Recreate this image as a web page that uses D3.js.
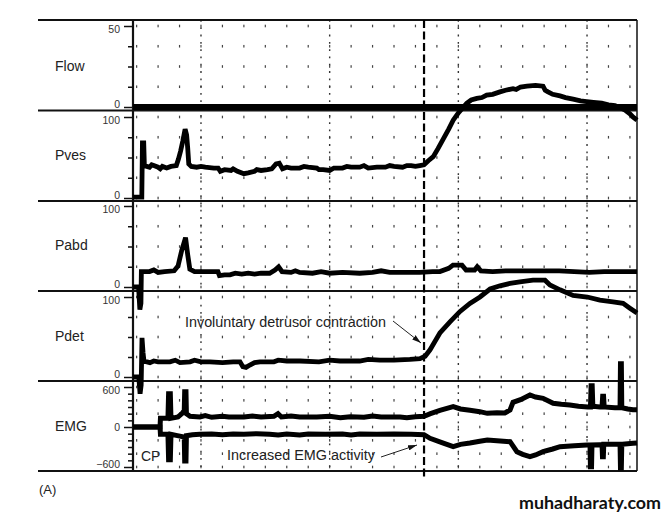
<!DOCTYPE html>
<html><head><meta charset="utf-8">
<script src="https://cdn.jsdelivr.net/npm/d3@7"></script>
<style>body{margin:0;background:#fff}svg{display:block}</style>
</head><body>
<svg id="c" width="668" height="518"></svg>
<script>
// ---------- DATA ----------
const channels = ["Flow", "Pves", "Pabd", "Pdet", "EMG"];
const flowTicks = [0, 12.5, 25, 37.5, 50];
const flowTickLabels = ["0", "", "", "", "50"];
const pressTicks = [0, 25, 50, 75, 100];
const pressTickLabels = ["0", "", "", "", "100"];
const emgTicks = [-600, -500, -400, -300, -200, -100, 0, 100, 200, 300, 400, 500, 600];
const emgTickLabels = ["\u2212600", "", "", "", "", "", "0", "", "", "", "", "", "600"];
const emgGridRows = [-600, -400, -200, 0, 200, 400, 600];
const timeGrid = [0,10,20,30,40,50,60,70,80,90,100,110,120,130,140,150,160,170,180,190,200,210,220,230];
const majorTimes = [30, 90, 150, 210];
const contractionTime = 134;

// [time (s), value]
const flow = [[-1.7,0],[233.3,0]];
const pves = [[-1.7,1],[2.4,1],[2.7,68],[3.3,68],[3.6,40],[6,38],[7,41],[8,40],[10,38],[11,36],[12,39],[14,37],[16,39],[18.5,40],
  [19.5,48],[20.5,58],[21.5,70],[22.6,85],[23.3,78],[23.8,62],[24.3,42],[25.5,39],[28,38],[30,39],[32,38],[36,37],[38,37],[39,33],
  [41,35],[44,34],[45,36],[47,33],[50,30],[52,31],[55,33],[56,35],[58,34],[61,35],[63,36],[65,42],[66.5,43],[68,36],[70,38],[72,37],[76,37],
  [78,39],[80,38],[84,37],[85,35],[87,35],[90,34],[92,37],[96,37],[98,39],[100,38],[104,38],[106,40],[108,37],[112,38],[116,38],[118,40],[120,39],[124,38],
  [126,40],[128,40],[130,39],[132,40],[134,41],[136,46],[138.3,51],[140.5,61],[143,73],[145.5,85],[147.6,96],[150,105],[153.9,117],
  [156,121],[158.6,123],[161,124],[163.2,127],[166,128],[169.4,131],[172,133],[175.5,135],[177,134],[179,137],[182,138],[186,139],[189.5,138],
  [190.5,133],[191.8,131],[194,128],[197.4,126],[200,124],[203.5,122],[207,120],[209.8,119],[213,118],[216.8,117],
  [220,115],[223,114],[226,111],[228,108],[230,104],[231.4,100],[233.3,96]];
const pabd = [[-1.7,0],[0.9,0],[1.5,-28],[2.0,-20],[2.2,19],[6,19],[8,21],[10,18],[13,19],[17.5,20],[19.3,26],[21,45],
  [22.8,61],[23.8,40],[24.8,22],[27,19],[33,19],[37.9,19],[38.6,14],[41,15],[43.5,15],[46,17],[49,16],[52,17],
  [55,16],[58,17],[62,17],[64.5,21],[66.2,25],[67.8,19],[72,18],[74,20],[76,18],[82,17],[86,19],[90,17],[96,18],[104,17],
  [110,18],[114,20],[118,18],[126,18],[132,18],[138,19],[141.4,19],[145.5,23],[147.5,27],[151.7,27],[153.6,21],[157.6,21],
  [158.8,25],[160.5,20],[166,19],[172,20],[180,20],[188,20],[197,20],[204,19],[211,18],[218,19],[226,19],[233.3,19]];
const pdet = [[-1.7,0],[1.0,0],[1.6,-21],[2.1,-10],[2.5,49],[3.0,30],[3.4,20],[6.2,18],[8,20],[10,19],[15.5,19],[18,21],[20.2,18],
  [24.9,19],[27,21],[30,19],[34.2,19],[40,18],[45,19],[48.2,19],[49.5,13],[51,12],[52.8,15],[55,18],[57.5,19],[64,19],
  [66,21],[70,20],[76.2,20],[85,19],[90,21],[94.8,20],[104,20],[108,22],[113.4,21],[120,21],[127.4,22],[132.1,23],[134.5,26],[136.8,34],
  [139,44],[141.4,55],[146.1,69],[150.8,82],[155.4,92],[160.1,100],[164.8,110],[169.4,114],[174.1,117],[178.7,119],
  [184.8,121],[190.4,121],[192.7,115],[197.4,109],[203.5,102],[210.1,100],[216,96],[222.1,94],[226.8,92],[230,86],[233.3,80]];
const emgUpper = [[-1.7,0],[10.9,0],[11.1,130],[14.6,130],[14.9,500],[15.7,500],[16.0,130],[19.3,150],[21.1,200],
  [22.2,250],[22.4,530],[23.0,530],[23.2,200],[24.9,160],[29.5,150],[32,170],[35,145],[40,160],[43,150],[50,150],[54,165],
  [58,150],[64,160],[65.9,200],[67.5,150],[72,165],[76,150],[84,150],[90,160],[95,140],[99.6,155],[106,145],[110,165],[114,150],[122.8,150],
  [126,140],[130,155],[134,160],[137,200],[141.4,250],[147.6,305],[151,270],[155.4,250],[160,230],[163.5,205],[168,215],
  [171.7,210],[174.1,255],[175.5,370],[179,410],[183.4,480],[186,450],[189.5,430],[194.2,355],[198,340],[202,330],
  [206,310],[210.4,300],[211.6,300],[211.9,620],[212.4,620],[212.7,310],[216,300],[217.0,300],[217.3,460],[217.7,460],
  [218.0,300],[223,290],[225.4,290],[225.6,950],[226.0,950],[226.2,290],[229,270],[231.4,260],[233.3,260]];
const emgLower = [[-1.7,0],[10.9,0],[11.1,-110],[14.6,-110],[14.9,-490],[15.7,-490],[16.0,-110],[19,-130],[22.2,-150],
  [22.4,-510],[23.0,-510],[23.2,-130],[26,-115],[29.5,-110],[35,-105],[40,-115],[45,-105],[50,-110],[56,-100],
  [62,-110],[66,-120],[70,-105],[76,-120],[80,-105],[88,-110],[96,-105],[100,-120],[104,-105],[112,-110],[120,-105],[128,-110],
  [134,-115],[136.8,-170],[142,-230],[147.6,-295],[151,-260],[155.4,-240],[160,-215],[163.5,-195],[168,-205],
  [174.1,-220],[177.3,-370],[180,-410],[183.4,-445],[186,-420],[189.5,-370],[194,-330],[197.4,-295],[204,-280],
  [210,-270],[211.4,-270],[211.6,-595],[212.1,-595],[212.3,-270],[216,-265],[217.0,-265],[217.2,-445],[217.6,-445],
  [217.8,-260],[223,-260],[225.4,-260],[225.6,-615],[226.0,-615],[226.2,-260],[229,-250],[231.4,-245],[233.3,-240]];

// ---------- LAYOUT ----------
const L = {plotLeft:133, plotRight:637, ruleLeft:38,
  bounds:[20,110.5,201,291,381,471],
  yRanges:[[107,26],[198,117],[287,206],[377,297],[467,387]],
  labelY:[66,155,245,336,426]};

const svg = d3.select("#c");
const x = d3.scaleLinear().domain([-1.7, 233.3]).range([L.plotLeft, L.plotRight]);
const panels = [
  {name:channels[0], y:d3.scaleLinear().domain([0,50]).range(L.yRanges[0]), ticks:flowTicks, labels:flowTickLabels, rows:flowTicks, data:[flow], w:6},
  {name:channels[1], y:d3.scaleLinear().domain([0,100]).range(L.yRanges[1]), ticks:pressTicks, labels:pressTickLabels, rows:pressTicks, data:[pves], w:4.8},
  {name:channels[2], y:d3.scaleLinear().domain([0,100]).range(L.yRanges[2]), ticks:pressTicks, labels:pressTickLabels, rows:pressTicks, data:[pabd], w:4.8},
  {name:channels[3], y:d3.scaleLinear().domain([0,100]).range(L.yRanges[3]), ticks:pressTicks, labels:pressTickLabels, rows:pressTicks, data:[pdet], w:4.8},
  {name:channels[4], y:d3.scaleLinear().domain([-600,600]).range(L.yRanges[4]), ticks:emgTicks, labels:emgTickLabels, rows:emgGridRows, data:[emgUpper, emgLower], w:5}
];

// grid dots
const grid = svg.append("g");
panels.forEach(p => {
  p.rows.forEach(r => {
    timeGrid.forEach(t => {
      grid.append("rect").attr("x", x(t)-0.6).attr("y", p.y(r)-1.3).attr("width",1.2).attr("height",2.6).attr("fill","#444");
    });
  });
});
// dense dotted verticals
majorTimes.forEach(t => {
  grid.append("line").attr("x1",x(t)).attr("x2",x(t)).attr("y1",L.bounds[0]).attr("y2",L.bounds[5])
    .attr("stroke","#333").attr("stroke-width",1.4).attr("stroke-dasharray","1.8,5.5");
});

// frame lines
const frame = svg.append("g").attr("stroke","#111");
L.bounds.forEach((b,i) => {
  frame.append("line").attr("x1",L.ruleLeft).attr("x2",L.plotRight).attr("y1",b).attr("y2",b).attr("stroke-width", 2);
});
frame.append("line").attr("x1",L.plotRight).attr("x2",L.plotRight).attr("y1",L.bounds[0]).attr("y2",L.bounds[5]).attr("stroke-width",1.5);
frame.append("line").attr("x1",L.plotLeft).attr("x2",L.plotLeft).attr("y1",L.bounds[0]).attr("y2",L.bounds[5]).attr("stroke-width",2.2);

const font = "'Liberation Sans', Arial, sans-serif";
// axes
panels.forEach((p,i) => {
  const g = svg.append("g").attr("transform",`translate(${L.plotLeft},0)`)
    .call(d3.axisLeft(p.y).tickValues(p.ticks).tickSize(5).tickSizeOuter(0).tickPadding(8)
      .tickFormat((d,j) => p.labels[j]));
  g.select(".domain").remove();
  g.selectAll(".tick line").attr("stroke","#111").attr("stroke-width",1.5)
    .attr("x2",(d,j) => p.labels[j] ? -9 : -5);
  g.selectAll(".tick text").attr("font-family",font).attr("font-size",10.5).attr("fill","#333")
    .attr("dy",(d,j) => j === p.ticks.length-1 ? "0.62em" : (j === 0 ? "0.05em" : "0.32em"));
  svg.append("text").attr("x",55).attr("y",L.labelY[i]+5).text(p.name)
    .attr("font-family",font).attr("font-size",14).attr("fill","#222");
});

// traces
const traces = svg.append("g");
panels.forEach(p => {
  const ln = d3.line().x(d => x(d[0])).y(d => p.y(d[1]));
  p.data.forEach(s => traces.append("path").attr("d", ln(s)).attr("fill","none").attr("stroke","#000")
    .attr("stroke-width", p.w).attr("stroke-linejoin","miter").attr("stroke-miterlimit",2));
});

// contraction dashed line
svg.append("line").attr("x1",x(contractionTime)).attr("x2",x(contractionTime)).attr("y1",L.bounds[0]).attr("y2",477)
  .attr("stroke","#000").attr("stroke-width",2.2).attr("stroke-dasharray","8,3.5");

// annotations
const defs = svg.append("defs");
defs.append("marker").attr("id","ah").attr("viewBox","0 0 10 6").attr("refX",10).attr("refY",3)
  .attr("markerWidth",9).attr("markerHeight",5.5).attr("markerUnits","userSpaceOnUse").attr("orient","auto")
  .append("path").attr("d","M0,0 L10,3 L0,6 Z").attr("fill","#111");
svg.append("text").attr("x",185).attr("y",327).text("Involuntary detrusor contraction")
  .attr("font-family",font).attr("font-size",14).attr("textLength",201).attr("lengthAdjust","spacingAndGlyphs").attr("fill","#222");
svg.append("line").attr("x1",393).attr("y1",321).attr("x2",421).attr("y2",343)
  .attr("stroke","#222").attr("stroke-width",1).attr("marker-end","url(#ah)");
svg.append("text").attr("x",227).attr("y",460).text("Increased EMG activity")
  .attr("font-family",font).attr("font-size",14).attr("textLength",148).attr("lengthAdjust","spacingAndGlyphs").attr("fill","#222");
svg.append("line").attr("x1",381).attr("y1",457).attr("x2",417).attr("y2",445)
  .attr("stroke","#222").attr("stroke-width",1).attr("marker-end","url(#ah)");
svg.append("text").attr("x",141).attr("y",461).text("CP")
  .attr("font-family",font).attr("font-size",14).attr("fill","#222");
svg.append("text").attr("x",39).attr("y",494).text("(A)")
  .attr("font-family",font).attr("font-size",13).attr("fill","#222");
svg.append("text").attr("x",519).attr("y",509).text("muhadharaty.com")
  .attr("font-family","Lato, 'Open Sans', sans-serif").attr("font-weight","bold").attr("font-size",17)
  .attr("textLength",142).attr("lengthAdjust","spacingAndGlyphs").attr("fill","#111");
</script>
</body></html>
